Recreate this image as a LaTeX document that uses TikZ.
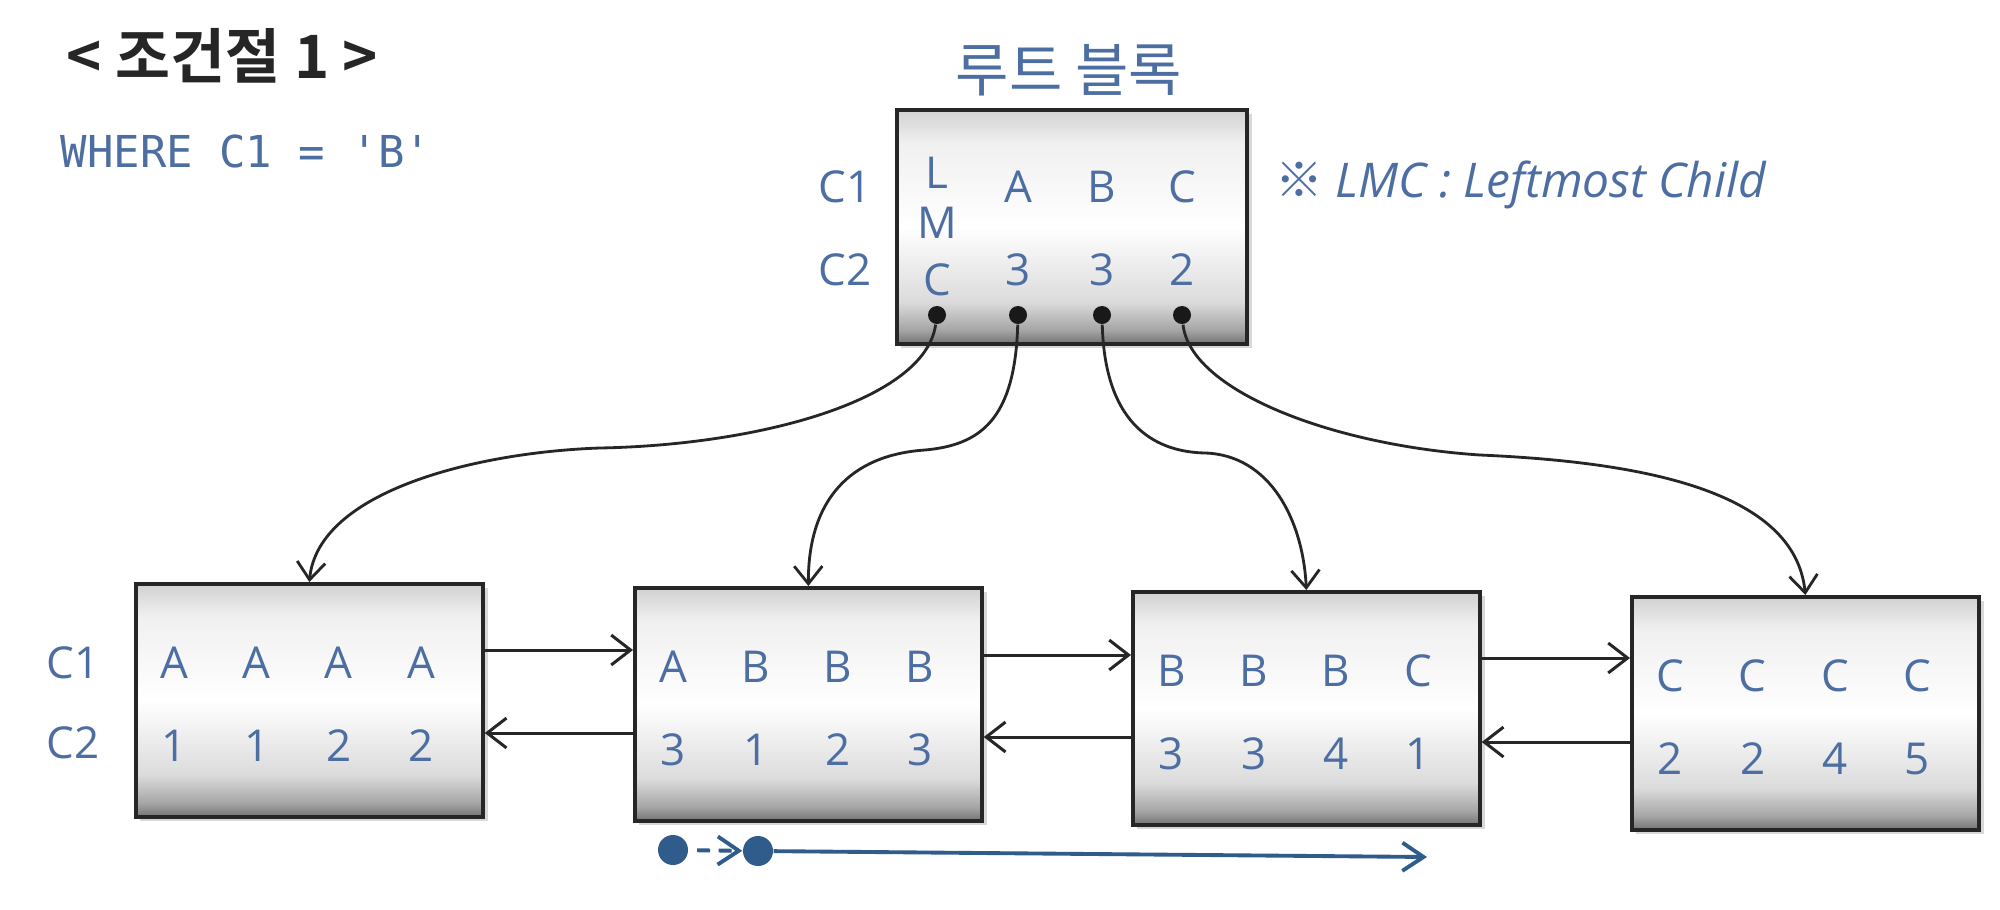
\documentclass[tikz,border=0pt]{standalone}
\usepackage{fontspec}
\setmainfont{Open Sans}
\newfontfamily\cjk[BoldFont={Noto Sans CJK KR Bold}]{Noto Sans CJK KR}
\newfontfamily\monofont[Ligatures=ResetAll]{DejaVu Sans Mono}
\usetikzlibrary{arrows.meta,calc,shadows}
\definecolor{txtblue}{RGB}{76,110,162}
\definecolor{arrblue}{RGB}{48,92,140}
\definecolor{titlegray}{RGB}{38,38,38}
\pgfdeclareverticalshading{boxshade}{100bp}{color(0bp)=(black!55); color(25bp)=(black!55); color(28bp)=(black!35); color(34bp)=(black!14); color(50bp)=(white); color(68bp)=(black!6); color(75bp)=(black!18); color(100bp)=(black!18)}
\tikzset{
  blockbox/.style={rectangle, draw=black!85, line width=1pt, shading=boxshade,
    minimum width=3.47cm, minimum height=2.33cm, inner sep=0pt, anchor=north west,
    drop shadow={shadow xshift=1.3pt, shadow yshift=-1.3pt, opacity=0.3}},
  cell/.style={text=txtblue, font=\fontsize{12.5}{14}\selectfont, inner sep=0pt},
  ptr/.style={circle, fill=black!90, minimum size=0.18cm, inner sep=0pt},
  curvearr/.style={draw=black!85, line width=0.8pt, -{Straight Barb[length=5pt,width=8pt]}},
  linkarr/.style={draw=black!85, line width=0.85pt, -{Straight Barb[length=5.5pt,width=8.5pt]}},
  bluedot/.style={circle, fill=arrblue, minimum size=0.3cm, inner sep=0pt},
  bluearr/.style={draw=arrblue, line width=1.1pt, -{Straight Barb[length=6pt,width=8pt]}},
}
\begin{document}
\begin{tikzpicture}[x=0.01cm,y=-0.01cm]
\useasboundingbox (0,0) rectangle (2000,909);
\fill[white] (0,0) rectangle (2000,909);

% headings
\node[text=titlegray, anchor=west, inner sep=0pt, font=\cjk\bfseries\fontsize{17}{20}\selectfont] (title) at (66,56) {< 조건절 1 >};
\node[text=txtblue, anchor=west, inner sep=0pt, font=\monofont\fontsize{12.5}{14}\selectfont] (where) at (60,151) {WHERE C1 = 'B'};
\node[text=txtblue, inner sep=0pt, font=\cjk\fontsize{16.5}{19}\selectfont] (rtitle) at (1069,70) {루트 블록};
\node[text=txtblue, anchor=west, inner sep=0pt, font=\fontsize{13.6}{16}\selectfont\itshape] (note) at (1275,185) {{\cjk\upshape ※} LMC : Leftmost Child};

% root block
\node[blockbox, minimum width=3.5cm, minimum height=2.34cm] (root) at (895,108) {};
\node[cell] (rc1) at (845,187) {C1};
\node[cell] (rc2) at (845,270) {C2};
\node[cell] (rL) at ($(root.north west)+(42,65)$) {L};
\node[cell] (rM) at ($(root.north west)+(42,115)$) {M};
\node[cell] (rC) at ($(root.north west)+(42,172)$) {C};
\node[cell] (ra1) at ($(root.north west)+(123,79)$) {A};
\node[cell] (ra2) at ($(root.north west)+(207,79)$) {B};
\node[cell] (ra3) at ($(root.north west)+(287,79)$) {C};
\node[cell] (rb1) at ($(root.north west)+(123,162)$) {3};
\node[cell] (rb2) at ($(root.north west)+(207,162)$) {3};
\node[cell] (rb3) at ($(root.north west)+(287,162)$) {2};
\node[ptr] (d1) at ($(root.north west)+(42,207)$) {};
\node[ptr] (d2) at ($(root.north west)+(123,207)$) {};
\node[ptr] (d3) at ($(root.north west)+(207,207)$) {};
\node[ptr] (d4) at ($(root.north west)+(287,207)$) {};

% leaf labels
\node[cell] (lc1) at (73,663) {C1};
\node[cell] (lc2) at (73,743) {C2};

% leaf blocks
\foreach \nm/\lx/\ly/\ra/\rb in {l1/134/582/{A,A,A,A}/{1,1,2,2},
                                l2/633/586/{A,B,B,B}/{3,1,2,3},
                                l3/1131/590/{B,B,B,C}/{3,3,4,1},
                                l4/1630/595/{C,C,C,C}/{2,2,4,5}}{
  \node[blockbox] (\nm) at (\lx,\ly) {};
  \foreach \v [count=\i] in \ra
    \node[cell] (\nm-a\i) at ($(\nm.north west)+(-42+82.3*\i,81)$) {\v};
  \foreach \v [count=\i] in \rb
    \node[cell] (\nm-b\i) at ($(\nm.north west)+(-42+82.3*\i,164)$) {\v};
}

% curved child pointers
\draw[curvearr] (d1) .. controls (925,400) and (760,445) .. (600,448)
                     .. controls (480,452) and (318,490) .. (l1.north);
\draw[curvearr] (d2) .. controls (1015,420) and (980,445) .. (925,450)
                     .. controls (850,455) and (808,500) .. (l2.north);
\draw[curvearr] (d3) .. controls (1105,430) and (1160,452) .. (1205,453)
                     .. controls (1270,455) and (1303,520) .. (l3.north);
\draw[curvearr] (d4) .. controls (1190,390) and (1330,445) .. (1480,455)
                     .. controls (1640,462) and (1795,490) .. (l4.north);

% sibling links
\coordinate (s12) at ($(l1.north east)+(0,68)$);
\coordinate (t21) at ($(l2.north west)+(0,147)$);
\coordinate (s23) at ($(l2.north east)+(0,69)$);
\coordinate (t32) at ($(l3.north west)+(0,147)$);
\coordinate (s34) at ($(l3.north east)+(0,68)$);
\coordinate (t43) at ($(l4.north west)+(0,147)$);
\draw[linkarr] (s12) -- (s12 -| l2.west);
\draw[linkarr] (t21) -- (t21 -| l1.east);
\draw[linkarr] (s23) -- (s23 -| l3.west);
\draw[linkarr] (t32) -- (t32 -| l2.east);
\draw[linkarr] (s34) -- (s34 -| l4.west);
\draw[linkarr] (t43) -- (t43 -| l3.east);

% scan direction
\node[bluedot] (bd1) at (673,850) {};
\node[bluedot] (bd2) at (758,851) {};
\coordinate (bend) at (1427,857);
\draw[bluearr, dash pattern=on 3.7pt off 2.4pt, dash phase=3.7pt] (bd1) -- (bd2);
\draw[bluearr] (bd2) -- (bend);
\end{tikzpicture}
\end{document}
